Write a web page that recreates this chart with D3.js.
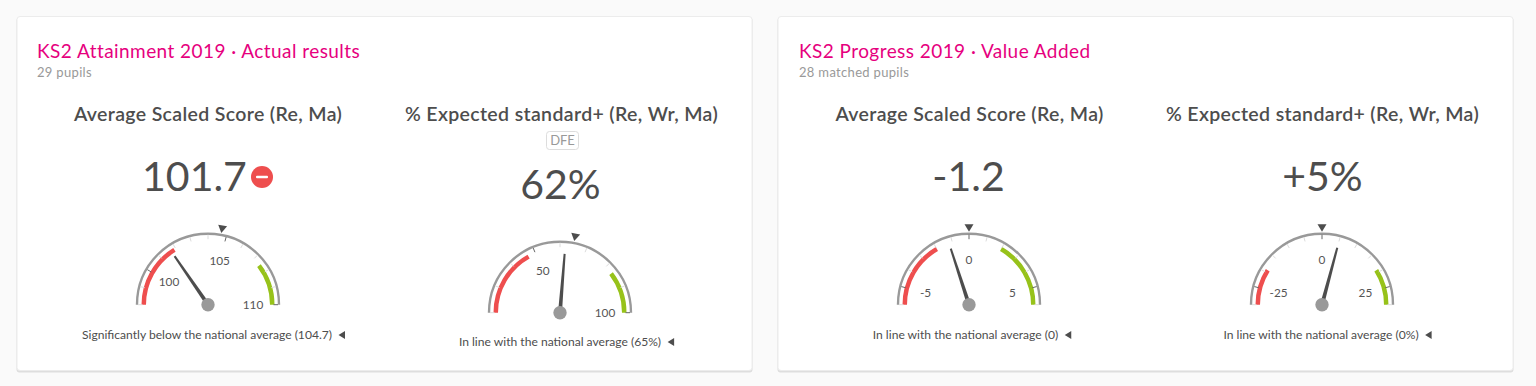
<!DOCTYPE html>
<html><head><meta charset="utf-8">
<script src="https://cdn.jsdelivr.net/npm/d3@7"></script>
<style>
html,body{margin:0;padding:0;background:#fafafa;overflow:hidden}
svg{display:block}
text{font-family:Lato,"Noto Sans",sans-serif}
</style></head><body>
<svg id="c" width="1536" height="386"></svg>
<script>
// ---- data ----
const cardTitles = ["KS2 Attainment 2019 · Actual results", "KS2 Progress 2019 · Value Added"];
const cardSubtitles = ["29 pupils", "28 matched pupils"];
const gaugeTitles = ["Average Scaled Score (Re, Ma)", "% Expected standard+ (Re, Wr, Ma)", "Average Scaled Score (Re, Ma)", "% Expected standard+ (Re, Wr, Ma)"];
const valueLabels = ["101.7", "62%", "-1.2", "+5%"];
const captions = ["Significantly below the national average (104.7)", "In line with the national average (65%)", "In line with the national average (0)", "In line with the national average (0%)"];
const values = [101.7, 62, -1.2, 5];
const nationals = [104.7, 65, 0, 0];
const domains = [[98, 110], [20, 100], [-6, 6], [-30, 30]];
const redBands = [[98, 101.9], [20, 47], [-6, -2], [-30, -19.2]];
const greenBands = [[107.5, 110], [83.4, 100], [2, 6], [19.2, 30]];
const majorTicks = [[100, 105, 110], [50, 100], [-5, 0, 5], [-25, 0, 25]];
const minorTicks = [
  [98, 99, 101, 102, 103, 104, 106, 107, 108, 109],
  [20, 30, 40, 60, 70, 80, 90],
  [-6, -4, -3, -2, -1, 1, 2, 3, 4, 6],
  [-30, -20, -15, -10, -5, 5, 10, 15, 20, 30]
];

// ---- layout ----
const cards = [{x: 17, w: 735, tx: 37}, {x: 778, w: 735, tx: 799}];
const centreX = [208, 560, 969, 1322];
const centreY = [304.7, 312.7, 304.7, 304.7];
const titleX = [208, 561.5, 969.5, 1322.5];
const valueX = [194.5, 560.5, 968.5, 1322.5];
const valueY = [191, 199, 191, 191];
const captionX = [207, 560, 965.5, 1321];
const captionY = [339, 346, 339, 339];
const INK = "#4d4d4d", R = 71;

const svg = d3.select("#c");
svg.append("rect").attr("width", 1536).attr("height", 386).attr("fill", "#fafafa");

cards.forEach((c, i) => {
  svg.append("rect").attr("x", c.x - 0.5).attr("y", 17.5).attr("width", c.w + 1).attr("height", 355)
    .attr("rx", 3).attr("fill", "#dedede");
  svg.append("rect").attr("x", c.x).attr("y", 16.5).attr("width", c.w).attr("height", 354)
    .attr("rx", 3).attr("fill", "#fff").attr("stroke", "#ececec");
  svg.append("text").attr("x", c.tx).attr("y", 58).attr("font-size", 19).attr("letter-spacing", 0.44).attr("fill", "#e6007e").text(cardTitles[i]);
  svg.append("text").attr("x", c.tx).attr("y", 77).attr("font-size", 13).attr("letter-spacing", 0.32).attr("fill", "#999").text(cardSubtitles[i]);
});

values.forEach((v, i) => {
  const cx = centreX[i], cy = centreY[i];
  svg.append("text").attr("x", titleX[i]).attr("y", 121).attr("text-anchor", "middle")
    .attr("font-size", 19.5).attr("font-weight", 600).attr("letter-spacing", 0.35).attr("fill", INK).text(gaugeTitles[i]);
  svg.append("text").attr("x", valueX[i]).attr("y", valueY[i]).attr("text-anchor", "middle")
    .attr("font-size", 41).attr("fill", INK).text(valueLabels[i]);

  const g = svg.append("g").attr("transform", `translate(${cx},${cy})`);
  const a = d3.scaleLinear().domain(domains[i]).range([-Math.PI / 2, Math.PI / 2]);
  const arc = d3.arc();
  g.append("path").attr("fill", "none").attr("stroke", "#999").attr("stroke-width", 2.4)
    .attr("d", d3.arc()({innerRadius: R, outerRadius: R, startAngle: -Math.PI / 2, endAngle: Math.PI / 2}));
  const band = (b, col) => g.append("path").attr("fill", col)
    .attr("d", arc({innerRadius: 62, outerRadius: 66.5, startAngle: a(b[0]), endAngle: a(b[1])}));
  band(redBands[i], "#ee4e4e");
  band(greenBands[i], "#97c21a");
  const tick = (t, col, wd) => g.append("line")
    .attr("x1", 65.5 * Math.sin(a(t))).attr("y1", -65.5 * Math.cos(a(t)))
    .attr("x2", 70 * Math.sin(a(t))).attr("y2", -70 * Math.cos(a(t)))
    .attr("stroke", col).attr("stroke-width", wd);
  minorTicks[i].forEach(t => tick(t, "#dcdcdc", 1));
  majorTicks[i].forEach(t => {
    tick(t, "#666", 1);
    g.append("text").attr("x", 45 * Math.sin(a(t))).attr("y", -45 * Math.cos(a(t)) + 4)
      .attr("text-anchor", "middle").attr("font-size", 11.8).attr("fill", "#555").text(t);
  });
  // tapered needle
  const na = a(v), px = Math.cos(na), py = Math.sin(na);
  const tx = 59 * Math.sin(na), ty = -59 * Math.cos(na);
  g.append("path").attr("fill", INK)
    .attr("d", d3.line()([[-2 * px, -2 * py], [tx - 1 * px, ty - 1 * py], [tx + 1 * px, ty + 1 * py], [2 * px, 2 * py]]) + "Z");
  g.append("circle").attr("r", 6.7).attr("fill", "#999");
  // national marker
  const ma = a(nationals[i]);
  g.append("path").attr("d", "M-4.5,-3.5L4.5,-3.5L0,4Z").attr("fill", INK)
    .attr("transform", `translate(${77 * Math.sin(ma)},${-77 * Math.cos(ma)}) rotate(${ma * 180 / Math.PI})`);
  // caption
  const cap = svg.append("text").attr("x", captionX[i]).attr("y", captionY[i]).attr("text-anchor", "middle")
    .attr("font-size", 12.1).attr("fill", INK).text(captions[i]);
  const bb = cap.node().getBBox();
  svg.append("path").attr("d", `M${bb.x + bb.width + 6.5},${captionY[i] - 4}l6.5,-4v8Z`).attr("fill", INK);
});

// below-average icon
svg.append("circle").attr("cx", 262).attr("cy", 177).attr("r", 11).attr("fill", "#ee4e4e");
svg.append("rect").attr("x", 256).attr("y", 175.7).attr("width", 12).attr("height", 2.6).attr("rx", 1).attr("fill", "#fff");

// DFE badge
svg.append("rect").attr("x", 546.5).attr("y", 131.5).attr("width", 32).attr("height", 18).attr("rx", 3)
  .attr("fill", "#fff").attr("stroke", "#ddd");
svg.append("text").attr("x", 562.5).attr("y", 145).attr("text-anchor", "middle").attr("font-size", 13)
  .attr("fill", "#999").text("DFE");
</script>
</body></html>
